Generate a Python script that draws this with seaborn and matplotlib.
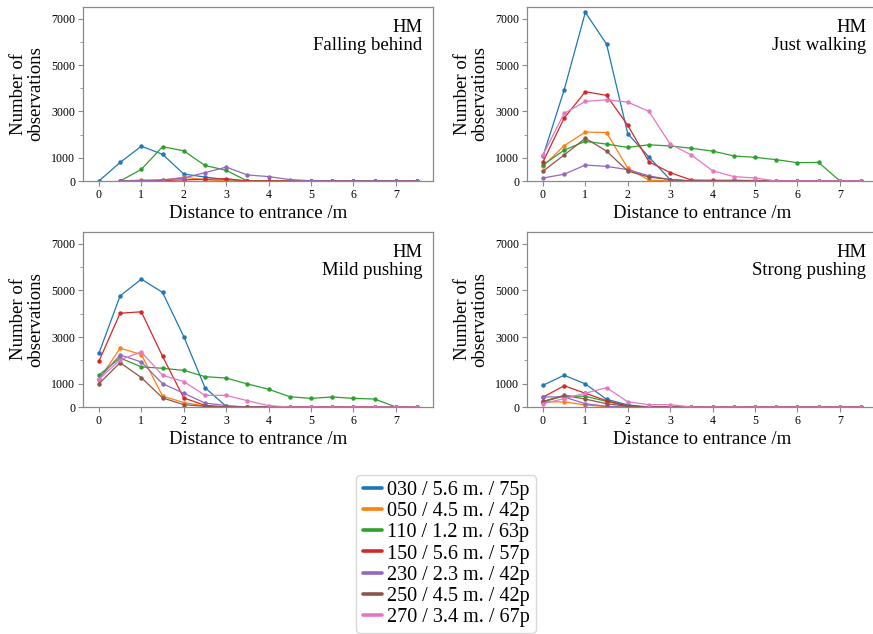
import numpy as np
import pandas as pd
import matplotlib
matplotlib.use("Agg")
import matplotlib.pyplot as plt
import seaborn as sns
from matplotlib.lines import Line2D
from matplotlib.ticker import FixedLocator

nan = np.nan

distance = [0, 0.5, 1, 1.5, 2, 2.5, 3, 3.5, 4, 4.5, 5, 5.5, 6, 6.5, 7, 7.5]
series_labels = ["030 / 5.6 m. / 75p", "050 / 4.5 m. / 42p", "110 / 1.2 m. / 63p",
                 "150 / 5.6 m. / 57p", "230 / 2.3 m. / 42p", "250 / 4.5 m. / 42p",
                 "270 / 3.4 m. / 67p"]
panel_titles = ["Falling behind", "Just walking", "Mild pushing", "Strong pushing"]
y_ticks = [0, 1000, 3000, 5000, 7000]
x_ticks = [0, 1, 2, 3, 4, 5, 6, 7]

# Falling behind
fb_030 = [0, 800, 1500, 1150, 300, 170, 60, 0, 0, 0, 0, 0, 0, 0, 0, 0]
fb_050 = [nan, 0, 40, 30, 160, 60, 0, 0, 0, 0, 0, 0, 0, 0, 0, 0]
fb_110 = [nan, 0, 500, 1480, 1300, 670, 460, 0, 0, 0, 0, 0, 0, 0, 0, 0]
fb_150 = [nan, 0, 0, 20, 50, 70, 100, 0, 0, 0, 0, 0, 0, 0, 0, 0]
fb_230 = [nan, 0, 20, 50, 130, 360, 600, 260, 190, 60, 10, 0, 0, 0, 0, 0]
fb_250 = [nan] * 16
fb_270 = [nan] * 16

# Just walking
jw_030 = [1060, 3920, 7270, 5900, 2040, 1030, 60, 0, 0, 0, 0, 0, 0, 0, 0, 0]
jw_050 = [630, 1520, 2110, 2090, 550, 40, 0, 0, 0, 0, 0, 0, 0, 0, 0, 0]
jw_110 = [690, 1330, 1710, 1590, 1450, 1560, 1510, 1410, 1290, 1080, 1020, 920, 790, 800, 0, 0]
jw_150 = [820, 2710, 3850, 3690, 2400, 830, 360, 40, 30, 30, 20, 0, 0, 0, 0, 0]
jw_230 = [130, 290, 690, 630, 490, 220, 60, 0, 0, 0, 0, 0, 0, 0, 0, 0]
jw_250 = [420, 1120, 1840, 1290, 430, 170, 60, 0, 0, 0, 0, 0, 0, 0, 0, 0]
jw_270 = [1120, 2910, 3430, 3500, 3400, 3000, 1590, 1120, 440, 190, 130, 0, 0, 0, 0, 0]

# Mild pushing
mp_030 = [2300, 4760, 5480, 4910, 3020, 830, 30, 0, 0, 0, 0, 0, 0, 0, 0, 0]
mp_050 = [1170, 2520, 2250, 470, 190, 40, 0, 0, 0, 0, 0, 0, 0, 0, 0, 0]
mp_110 = [1370, 2100, 1720, 1660, 1570, 1300, 1240, 990, 760, 440, 370, 430, 370, 340, 0, 0]
mp_150 = [1960, 4020, 4080, 2170, 390, 70, 0, 0, 0, 0, 0, 0, 0, 0, 0, 0]
mp_230 = [1220, 2230, 1930, 1000, 590, 170, 60, 0, 0, 0, 0, 0, 0, 0, 0, 0]
mp_250 = [990, 1900, 1260, 390, 100, 30, 0, 0, 0, 0, 0, 0, 0, 0, 0, 0]
mp_270 = [1190, 2020, 2360, 1360, 1090, 500, 500, 270, 60, 0, 0, 0, 0, 0, 0, 0]

# Strong pushing
sp_030 = [930, 1360, 990, 330, 90, 0, 0, 0, 0, 0, 0, 0, 0, 0, 0, 0]
sp_050 = [220, 220, 90, 10, 0, 0, 0, 0, 0, 0, 0, 0, 0, 0, 0, 0]
sp_110 = [220, 470, 460, 240, 40, 0, 0, 0, 0, 0, 0, 0, 0, 0, 0, 0]
sp_150 = [420, 910, 590, 270, 40, 0, 0, 0, 0, 0, 0, 0, 0, 0, 0, 0]
sp_230 = [430, 430, 140, 30, 0, 0, 0, 0, 0, 0, 0, 0, 0, 0, 0, 0]
sp_250 = [240, 500, 340, 140, 30, 0, 0, 0, 0, 0, 0, 0, 0, 0, 0, 0]
sp_270 = [140, 360, 590, 830, 220, 100, 100, 0, 0, 0, 0, 0, 0, 0, 0, 0]

panels = [
    [fb_030, fb_050, fb_110, fb_150, fb_230, fb_250, fb_270],
    [jw_030, jw_050, jw_110, jw_150, jw_230, jw_250, jw_270],
    [mp_030, mp_050, mp_110, mp_150, mp_230, mp_250, mp_270],
    [sp_030, sp_050, sp_110, sp_150, sp_230, sp_250, sp_270],
]

rows = []
for p, (title, series) in enumerate(zip(panel_titles, panels)):
    for lab, vals in zip(series_labels, series):
        for x, v in zip(distance, vals):
            if not np.isnan(v):
                rows.append({"panel": title, "series": lab, "distance": x, "count": v})
df = pd.DataFrame(rows)

sns.set_theme(style="white")
plt.rcParams["font.family"] = ["Liberation Serif", "DejaVu Serif"]
plt.rcParams["text.color"] = "black"
plt.rcParams["axes.labelcolor"] = "black"
plt.rcParams["xtick.labelcolor"] = "black"
plt.rcParams["ytick.labelcolor"] = "black"

palette = dict(zip(series_labels, sns.color_palette("tab10", 7)))

W, H = 873, 634
fig = plt.figure(figsize=(W / 100, H / 100), dpi=100)
boxes = [(83, 7, 350, 174), (527, 7, 350, 174), (83, 232, 350, 175), (527, 232, 350, 175)]
spine_col = "#8a8a8a"

for title, (l, t, w, h) in zip(panel_titles, boxes):
    ax = fig.add_axes([l / W, 1 - (t + h) / H, w / W, h / H])
    sub = df[df["panel"] == title]
    sns.lineplot(data=sub, x="distance", y="count", hue="series", hue_order=series_labels,
                 palette=palette, marker="o", markersize=3.2, markeredgewidth=0,
                 linewidth=0.9, legend=False, ax=ax, sort=True)
    ax.set_ylim(0, 7500)
    ax.set_xlim(-0.375, 7.875)
    ax.set_yticks(y_ticks)
    ax.yaxis.set_minor_locator(FixedLocator([2000, 4000, 6000]))
    ax.set_xticks(x_ticks)
    ax.tick_params(axis="both", which="major", labelsize=8.6, length=3.5, width=0.8,
                   color=spine_col, labelcolor="black", direction="out", left=True,
                   bottom=True, pad=2)
    ax.tick_params(axis="y", which="minor", length=2, width=0.6, color=spine_col, left=True)
    for s in ax.spines.values():
        s.set_color(spine_col)
        s.set_linewidth(0.9)
    ax.set_xlabel("Distance to entrance /m", fontsize=13.5, labelpad=3, color="black")
    ax.set_ylabel("Number of\nobservations", fontsize=13.5, labelpad=5, linespacing=1.0,
                  color="black")
    ax.text(0.97, 0.93, "HM\n" + title, transform=ax.transAxes, ha="right", va="top",
            fontsize=13.5, linespacing=1.05, color="black")

handles = [Line2D([0], [0], color=palette[lab], lw=2.6) for lab in series_labels]
fig.legend(handles, series_labels, loc="upper center", bbox_to_anchor=(446 / W, 1 - 465 / H),
           fontsize=14.5, frameon=True, edgecolor="#d0d0d0", fancybox=True,
           handlelength=0.95, handletextpad=0.25, labelspacing=0.1, borderpad=0.3,
           labelcolor="black")

fig.savefig("out.png", dpi=100)
